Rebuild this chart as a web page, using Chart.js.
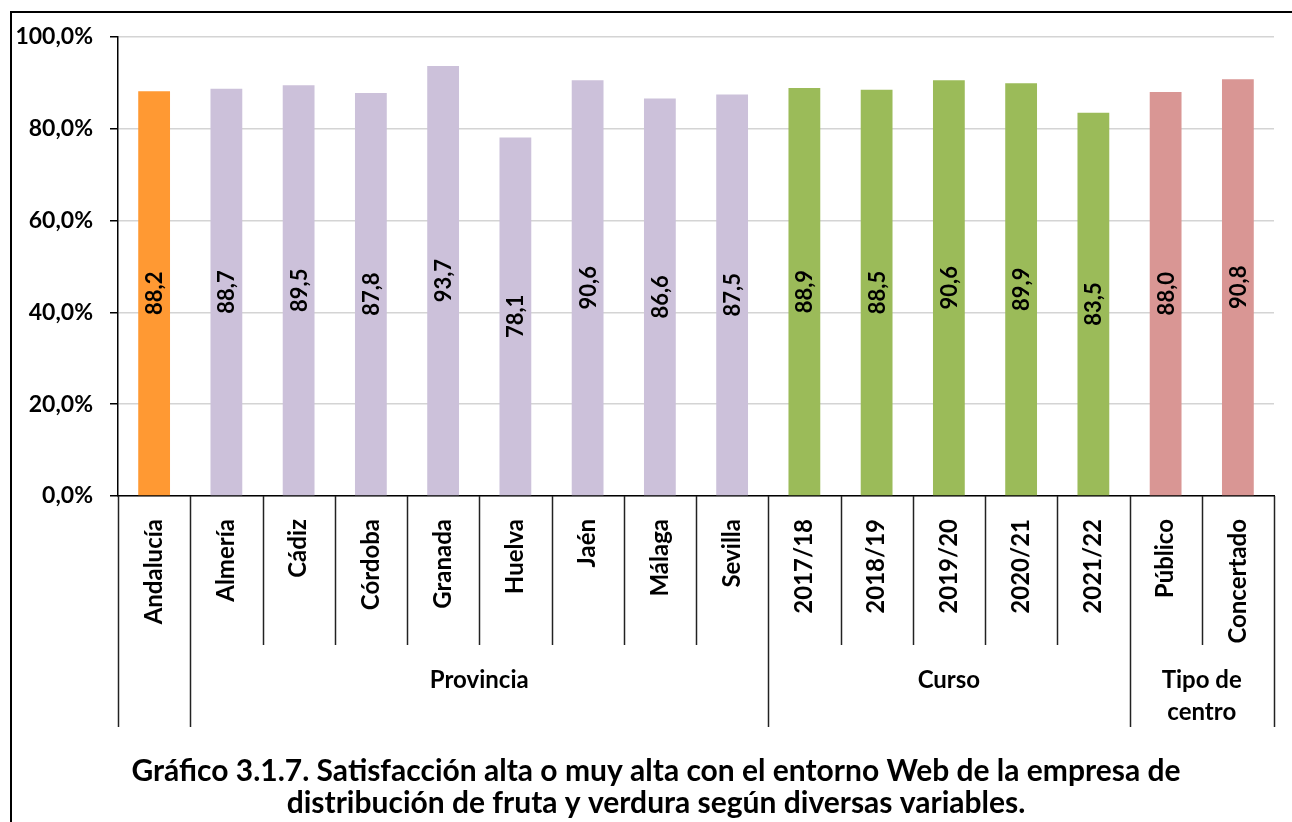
<!DOCTYPE html>
<html>
<head>
<meta charset="utf-8">
<script src="https://cdn.jsdelivr.net/npm/chart.js@4"></script>
<style>
  body { margin: 0; background: #fff; }
  canvas { display: block; }
</style>
</head>
<body>
<canvas id="myChart" width="1292" height="822"></canvas>
<script>
// data
var categories = ['Andalucía', 'Almería', 'Cádiz', 'Córdoba', 'Granada', 'Huelva', 'Jaén', 'Málaga', 'Sevilla',
  '2017/18', '2018/19', '2019/20', '2020/21', '2021/22', 'Público', 'Concertado'];
var values = [88.2, 88.7, 89.5, 87.8, 93.7, 78.1, 90.6, 86.6, 87.5, 88.9, 88.5, 90.6, 89.9, 83.5, 88.0, 90.8];
var groupNames = ['', 'Provincia', 'Curso', 'Tipo de\ncentro'];
var groupSizes = [1, 8, 5, 2];
var groupColors = ['#FF9933', '#CCC1DA', '#9BBB59', '#D99694'];
var yTicks = [0, 20, 40, 60, 80, 100];
var titleLines = ['Gráfico 3.1.7. Satisfacción alta o muy alta con el entorno Web de la empresa de',
  'distribución de fruta y verdura según diversas variables.'];

var FONT = 'Lato';

function fmt(v) {
  return v.toFixed(1).replace('.', ',');
}

// one colour per bar, from its group
var barColors = [];
groupSizes.forEach(function(n, g) {
  for (var i = 0; i < n; i++) barColors.push(groupColors[g]);
});

var extras = {
  id: 'extras',
  afterDatasetsDraw: function(chart) {
    var ctx = chart.ctx;
    var meta = chart.getDatasetMeta(0);
    ctx.save();
    ctx.fillStyle = '#000';
    ctx.font = 'bold 22px ' + FONT;
    ctx.textAlign = 'center';
    ctx.textBaseline = 'middle';
    meta.data.forEach(function(bar, i) {
      ctx.save();
      ctx.translate(bar.x, (bar.y + bar.base) / 2);
      ctx.rotate(-Math.PI / 2);
      ctx.fillText(fmt(values[i]), 0, 1);
      ctx.restore();
    });
    ctx.restore();
  },
  afterDraw: function(chart) {
    var ctx = chart.ctx;
    var x = chart.scales.x;
    function edge(i) {
      if (i <= 0) return x.left;
      if (i >= categories.length) return x.right;
      return (x.getPixelForValue(i - 1) + x.getPixelForValue(i)) / 2;
    }
    ctx.save();
    ctx.strokeStyle = '#222';
    ctx.lineWidth = 1.5;
    // category dividers below the axis
    var groupStart = [0];
    groupSizes.forEach(function(n, g) { groupStart.push(groupStart[g] + n); });
    for (var i = 0; i <= categories.length; i++) {
      var isGroup = groupStart.indexOf(i) >= 0;
      var px = Math.round(edge(i)) + 0.5;
      ctx.beginPath();
      ctx.moveTo(px, x.top);
      ctx.lineTo(px, isGroup ? x.bottom + 82 : x.bottom);
      ctx.stroke();
    }
    // group labels
    ctx.fillStyle = '#000';
    ctx.font = 'bold 24px ' + FONT;
    ctx.textAlign = 'center';
    ctx.textBaseline = 'middle';
    groupNames.forEach(function(name, g) {
      if (!name) return;
      var cx = (edge(groupStart[g]) + edge(groupStart[g + 1])) / 2;
      name.split('\n').forEach(function(line, k) {
        ctx.fillText(line, cx, x.bottom + 35 + k * 32);
      });
    });
    // title
    ctx.font = 'bold 30px ' + FONT;
    ctx.textBaseline = 'alphabetic';
    titleLines.forEach(function(line, k) {
      ctx.fillText(line, 656, 781 + k * 32);
    });
    // outer frame (right and bottom edges fall outside the picture)
    ctx.strokeStyle = '#000';
    ctx.lineWidth = 2;
    ctx.beginPath();
    ctx.moveTo(11, 822);
    ctx.lineTo(11, 12);
    ctx.lineTo(1292, 12);
    ctx.stroke();
    ctx.restore();
  }
};

var ctx = document.getElementById('myChart').getContext('2d');

var chart = new Chart(ctx, {
  type: 'bar',
  data: {
    labels: categories,
    datasets: [{
      data: values,
      backgroundColor: barColors,
      borderWidth: 0,
      barPercentage: 0.44,
      categoryPercentage: 1
    }]
  },
  options: {
    responsive: false,
    animation: false,
    layout: { padding: { top: 37, right: 18, bottom: 177, left: 0 } },
    plugins: {
      legend: { display: false },
      tooltip: { enabled: false },
      title: { display: false }
    },
    scales: {
      x: {
        grid: { display: false },
        border: { color: '#000', width: 1.5 },
        ticks: {
          autoSkip: false,
          minRotation: 90,
          maxRotation: 90,
          padding: 15,
          color: '#000',
          font: { family: FONT, size: 24, weight: 'bold' }
        },
        afterFit: function(scale) { scale.height = 149; }
      },
      y: {
        min: 0,
        max: 100,
        afterBuildTicks: function(scale) {
          scale.ticks = yTicks.map(function(v) { return { value: v }; });
        },
        grid: { color: '#d4d4d4', lineWidth: 1.5, tickColor: '#000', tickLength: 8 },
        border: { color: '#000', width: 1.5 },
        ticks: {
          padding: 17,
          color: '#000',
          font: { family: FONT, size: 23, weight: 'bold' },
          callback: function(v) { return fmt(v) + '%'; }
        },
        afterFit: function(scale) { scale.width = 118; }
      }
    }
  },
  plugins: [extras]
});
</script>
</body>
</html>
